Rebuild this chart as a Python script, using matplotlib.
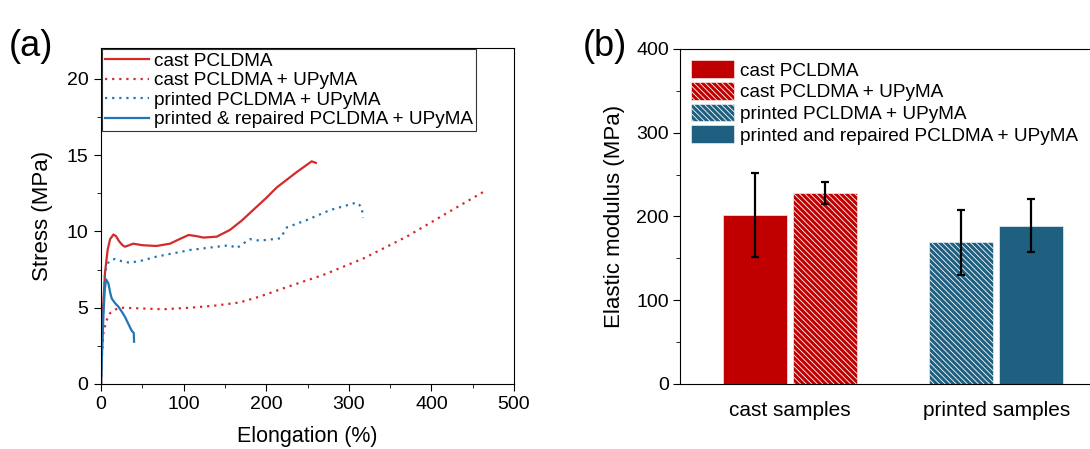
import numpy as np
import matplotlib
matplotlib.use("Agg")
import matplotlib.pyplot as plt
from matplotlib.ticker import MultipleLocator

plt.rcParams['font.family'] = ['Liberation Sans', 'DejaVu Sans']
plt.rcParams['hatch.color'] = 'white'
plt.rcParams['hatch.linewidth'] = 0.6

# (a) stress-strain curves
cast_x = [0, 2, 4.8, 8, 11, 15, 18, 22, 26, 29, 34, 39, 50, 67, 83.5, 95, 106, 115, 124, 140, 156, 170, 184, 200, 213, 237, 255, 260]
cast_y = [0, 4.5, 7.3, 8.8, 9.5, 9.8, 9.7, 9.35, 9.1, 9.0, 9.1, 9.2, 9.1, 9.05, 9.2, 9.5, 9.77, 9.7, 9.6, 9.66, 10.1, 10.7, 11.4, 12.2, 12.9, 13.9, 14.6, 14.5]

castu_x = [0, 1, 2.8, 6, 11, 18, 25, 50, 75, 108, 140, 168, 192, 229, 269, 318, 370, 418.5, 463]
castu_y = [0, 1.8, 3.3, 4.1, 4.65, 4.9, 5.0, 4.95, 4.9, 5.0, 5.15, 5.35, 5.73, 6.43, 7.15, 8.24, 9.66, 11.2, 12.6]

print_x = [0, 2, 4.8, 8, 11, 17, 25, 35, 50, 67, 108, 156, 164, 180, 192, 217, 225, 249, 277, 309.5, 315.6, 317]
print_y = [0, 4.0, 7.3, 7.9, 8.1, 8.2, 8.05, 7.95, 8.1, 8.35, 8.79, 9.1, 8.9, 9.5, 9.4, 9.55, 10.27, 10.75, 11.4, 11.9, 11.6, 10.9]

rep_x = [0, 1.5, 3, 4.5, 6.1, 8.9, 11, 13, 17, 21, 25, 29, 33, 37, 39.6, 40]
rep_y = [0, 2.5, 4.65, 6.2, 6.86, 6.6, 6.0, 5.6, 5.3, 5.07, 4.75, 4.4, 3.95, 3.5, 3.35, 2.77]

# (b) elastic modulus
groups = ['cast samples', 'printed samples']
bar_labels = ['cast PCLDMA', 'cast PCLDMA + UPyMA',
              'printed PCLDMA + UPyMA', 'printed and repaired PCLDMA + UPyMA']
modulus = [202, 228, 169, 189]
modulus_err = [50, 13, 39, 32]

red_line = '#d42a2a'
blue_line = '#2276b5'
red_bar = '#c00000'
blue_bar = '#1f5f80'

fig = plt.figure(figsize=(10.9, 4.49), dpi=100)

# ---- panel (a)
ax1 = fig.add_axes([0.0927, 0.1448, 0.3789, 0.7472])
ax1.plot(cast_x, cast_y, color=red_line, lw=1.6, label='cast PCLDMA')
ax1.plot(castu_x, castu_y, color=red_line, lw=1.6, ls=(0, (1, 2.2)), label='cast PCLDMA + UPyMA')
ax1.plot(print_x, print_y, color=blue_line, lw=1.6, ls=(0, (1, 2.2)), label='printed PCLDMA + UPyMA')
ax1.plot(rep_x, rep_y, color=blue_line, lw=1.6, label='printed & repaired PCLDMA + UPyMA')
ax1.set_xlim(0, 500)
ax1.set_ylim(0, 22)
ax1.xaxis.set_major_locator(MultipleLocator(100))
ax1.xaxis.set_minor_locator(MultipleLocator(50))
ax1.yaxis.set_major_locator(MultipleLocator(5))
ax1.yaxis.set_minor_locator(MultipleLocator(2.5))
ax1.tick_params(which='both', direction='out', labelsize=14, pad=4)
ax1.tick_params(which='major', length=5)
ax1.tick_params(which='minor', length=3)
ax1.set_xlabel('Elongation (%)', fontsize=15.5, labelpad=9)
ax1.set_ylabel('Stress (MPa)', fontsize=16, labelpad=10)
leg1 = ax1.legend(loc='upper left', fontsize=13.7, frameon=True, fancybox=False,
                  borderaxespad=0.05, handlelength=2.3, labelspacing=0.12, borderpad=0.15,
                  handletextpad=0.3)
leg1.get_frame().set_edgecolor('black')
leg1.get_frame().set_linewidth(0.8)
fig.text(0.008, 0.875, '(a)', fontsize=26)

# ---- panel (b)
ax2 = fig.add_axes([0.6239, 0.1448, 0.3752, 0.7461])
x = np.arange(len(groups))
w = 0.31
off = 0.169
colors = [red_bar, red_bar, blue_bar, blue_bar]
hatches = ['', '\\' * 6, '\\' * 6, '']
pos = [x[0] - off, x[0] + off, x[1] - off, x[1] + off]
for p, v, e, c, h, lab in zip(pos, modulus, modulus_err, colors, hatches, bar_labels):
    ax2.bar(p, v, width=w, color=c, hatch=h, edgecolor='white', linewidth=0.4, label=lab)
    ax2.errorbar(p, v, yerr=e, color='black', lw=1.6, capsize=3, capthick=1.6)
ax2.set_xlim(-0.531, 1.449)
ax2.set_ylim(0, 400)
ax2.set_xticks(x)
ax2.set_xticklabels(groups, fontsize=15)
ax2.tick_params(axis='x', length=0, pad=12)
ax2.yaxis.set_major_locator(MultipleLocator(100))
ax2.yaxis.set_minor_locator(MultipleLocator(50))
ax2.tick_params(axis='y', which='both', direction='out', labelsize=14, pad=3)
ax2.tick_params(axis='y', which='major', length=5)
ax2.tick_params(axis='y', which='minor', length=3)
ax2.spines['right'].set_visible(False)
ax2.set_ylabel('Elastic modulus (MPa)', fontsize=16, labelpad=8)
ax2.legend(loc='upper left', fontsize=13.7, frameon=False, borderaxespad=0.2,
           handlelength=2.25, handleheight=1.05, labelspacing=0.12, handletextpad=0.3)
fig.text(0.535, 0.875, '(b)', fontsize=26)

fig.savefig('out.png', dpi=100)
